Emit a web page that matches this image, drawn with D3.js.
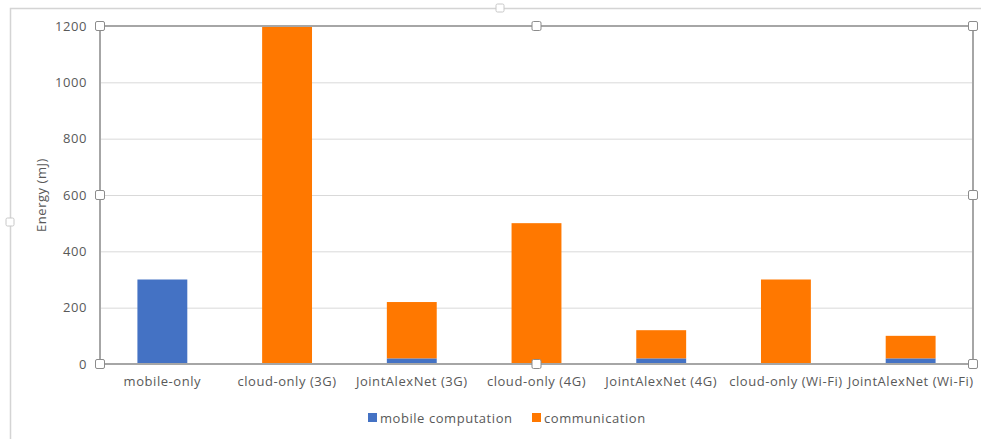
<!DOCTYPE html>
<html>
<head>
<meta charset="utf-8">
<script src="https://cdn.jsdelivr.net/npm/d3@7"></script>
<style>
  html, body { margin: 0; padding: 0; background: #fff; }
  svg { display: block; }
  text { font-family: "Open Sans", Lato, sans-serif; fill: #595959; letter-spacing: 0.55px; }
</style>
</head>
<body>
<svg id="chart" width="981" height="439"></svg>
<script>
// Energy per configuration, split into on-device computation and communication (mJ)
const categories = ["mobile-only", "cloud-only (3G)", "JointAlexNet (3G)", "cloud-only (4G)",
                    "JointAlexNet (4G)", "cloud-only (Wi-Fi)", "JointAlexNet (Wi-Fi)"];
const mobileComputation = [300, 0, 20, 0, 20, 0, 20];
const communication     = [0, 1200, 200, 500, 100, 300, 80];
const seriesNames = ["mobile computation", "communication"];
const seriesColors = ["#4472c4", "#ff7800"];
const yTicks = [0, 200, 400, 600, 800, 1000, 1200];

const FONT = "'Open Sans', Lato, sans-serif";
const FS = 13;
const svg = d3.select("#chart");
const plot = { left: 100, right: 973, top: 26, bottom: 364 };

// outer chart frame (selected chart object)
svg.append("path")
  .attr("d", "M10.5,439 L10.5,8.5 L981,8.5")
  .attr("fill", "none").attr("stroke", "#d4d4d4").attr("stroke-width", 1.5);
[[500, 8], [10, 222]].forEach(([x, y]) => {
  svg.append("rect").attr("x", x - 4).attr("y", y - 4).attr("width", 8).attr("height", 8)
    .attr("rx", 1.5).attr("fill", "#fff").attr("stroke", "#c8c8c8");
});

const x = d3.scaleBand().domain(categories).range([plot.left, plot.right]).paddingInner(0.6).paddingOuter(0.3);
const y = d3.scaleLinear().domain([0, 1200]).range([plot.bottom, plot.top]);

// gridlines
svg.append("g").selectAll("line").data(yTicks.slice(1, -1)).join("line")
  .attr("x1", plot.left).attr("x2", plot.right)
  .attr("y1", d => y(d) + 0.5).attr("y2", d => y(d) + 0.5)
  .attr("stroke", "#d9d9d9").attr("stroke-width", 1);

// stacked bars
const rows = categories.map((c, i) => ({ cat: c, mobile: mobileComputation[i], comm: communication[i] }));
const stack = d3.stack().keys(["mobile", "comm"])(rows);
svg.append("g").selectAll("g").data(stack).join("g")
  .attr("fill", (d, i) => seriesColors[i])
  .selectAll("rect").data(d => d.filter(s => s[1] > s[0])).join("rect")
  .attr("x", d => x(d.data.cat))
  .attr("width", x.bandwidth())
  .attr("y", d => y(d[1]))
  .attr("height", d => y(d[0]) - y(d[1]));

// y axis tick labels
const yAxis = svg.append("g").attr("transform", `translate(${plot.left},0)`)
  .call(d3.axisLeft(y).tickValues(yTicks).tickFormat(d3.format("d")).tickSize(0).tickPadding(13));
yAxis.select(".domain").remove();
yAxis.selectAll("text").attr("font-size", FS).style("font-family", FONT).attr("fill", "#595959");

// x axis category labels
const xAxis = svg.append("g").attr("transform", `translate(0,${plot.bottom})`)
  .call(d3.axisBottom(x).tickSize(0).tickPadding(13));
xAxis.select(".domain").remove();
xAxis.selectAll("text").attr("font-size", FS).style("font-family", FONT).attr("fill", "#595959");

// plot area frame (selected)
svg.append("rect")
  .attr("x", plot.left).attr("y", plot.top)
  .attr("width", plot.right - plot.left).attr("height", plot.bottom - plot.top)
  .attr("fill", "none").attr("stroke", "#a6a6a6").attr("stroke-width", 2);
const midX = (plot.left + plot.right) / 2, midY = (plot.top + plot.bottom) / 2;
[[plot.left, plot.top], [midX, plot.top], [plot.right, plot.top],
 [plot.left, midY], [plot.right, midY],
 [plot.left, plot.bottom], [midX, plot.bottom], [plot.right, plot.bottom]].forEach(([hx, hy]) => {
  svg.append("rect").attr("x", hx - 4.5).attr("y", hy - 4.5).attr("width", 9).attr("height", 9)
    .attr("rx", 1.5).attr("fill", "#fff").attr("stroke", "#8c8c8c").attr("stroke-width", 1);
});

// y axis title
svg.append("text")
  .attr("transform", `translate(46,${midY}) rotate(-90)`)
  .attr("text-anchor", "middle").attr("font-size", FS)
  .text("Energy (mJ)");

// legend
const legend = svg.append("g").attr("transform", "translate(368,418)");
const legendX = [0, 164];
seriesNames.forEach((name, i) => {
  const g = legend.append("g").attr("transform", `translate(${legendX[i]},0)`);
  g.append("rect").attr("x", 0).attr("y", -5).attr("width", 9).attr("height", 9).attr("fill", seriesColors[i]);
  g.append("text").attr("x", 12).attr("y", 0).attr("dy", "0.35em").attr("font-size", FS).text(name);
});
</script>
</body>
</html>
